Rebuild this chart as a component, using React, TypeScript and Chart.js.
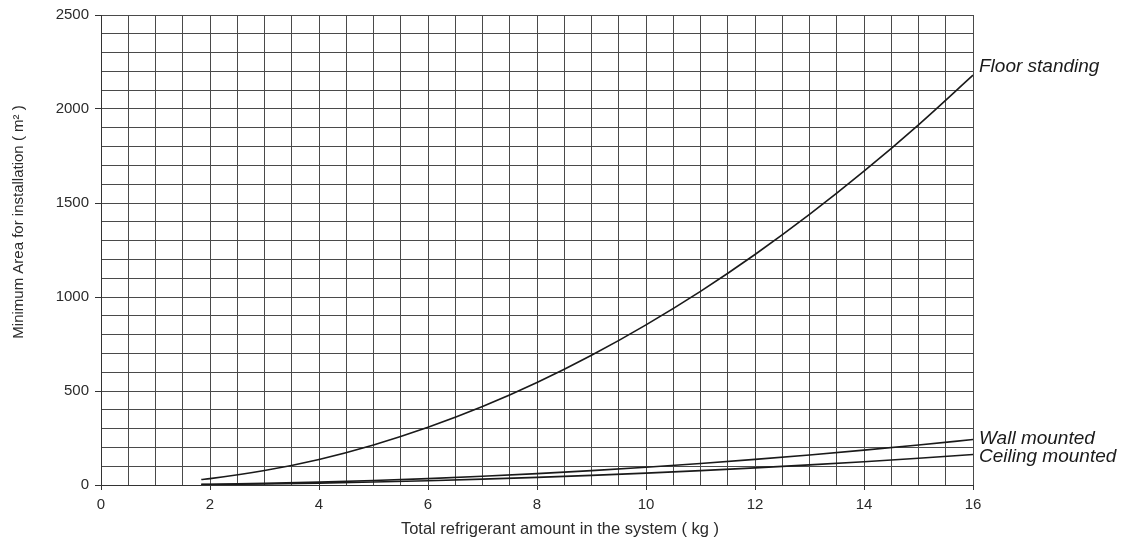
import React, { useEffect, useRef } from "react";
import { Chart, registerables } from "chart.js";

Chart.register(...registerables);

const xValues = [1.84, 2, 3, 4, 5, 6, 7, 8, 9, 10, 11, 12, 13, 14, 15, 16];
const floorStanding = [29, 34, 77, 136, 213, 307, 417, 545, 690, 852, 1030, 1226, 1439, 1669, 1916, 2180];
const wallMounted = [3.2, 3.8, 8.5, 15.1, 23.7, 34.1, 46.4, 60.5, 76.6, 94.6, 114.5, 136.2, 159.9, 185.4, 212.9, 242];
const ceilingMounted = [2.1, 2.5, 5.7, 10.1, 15.8, 22.8, 31, 40.5, 51.3, 63.3, 76.6, 91.2, 107, 124, 142.4, 162];

const seriesNames = ["Floor standing", "Wall mounted", "Ceiling mounted"];
const xTitle = "Total refrigerant amount in the system ( kg )";
const yTitle = "Minimum Area for installation ( m² )";
const xMin = 0, xMax = 16, xGridStep = 0.5, xLabelStep = 2;
const yMin = 0, yMax = 2500, yGridStep = 100, yLabelStep = 500;

const FONT = '"Liberation Sans", Arial, Helvetica, sans-serif';
const TEXT = "#2b2b2b";
const GRID = "#4a4a4a";

export default function App() {
  const ref = useRef<HTMLCanvasElement | null>(null);

  useEffect(() => {
    const canvas = ref.current;
    if (!canvas) return;
    const toPts = (ys: number[]) => xValues.map((x, i) => ({ x, y: ys[i] }));
    const labelOffsets = [-8, -1, 2.5];

    const labelPlugin = {
      id: "endLabels",
      afterDraw(chart: any) {
        const c = chart.ctx;
        const xs = chart.scales.x;
        const ys = chart.scales.y;
        c.save();
        c.fillStyle = "#1a1a1a";
        c.font = `italic 19px ${FONT}`;
        c.textAlign = "left";
        c.textBaseline = "middle";
        chart.data.datasets.forEach((ds: any, i: number) => {
          const last = ds.data[ds.data.length - 1];
          const px = xs.getPixelForValue(last.x) + 6;
          const py = ys.getPixelForValue(last.y) + labelOffsets[i];
          c.fillText(ds.label, px, py);
        });
        // axis titles
        c.fillStyle = TEXT;
        c.font = `16.5px ${FONT}`;
        c.textAlign = "center";
        c.fillText(xTitle, (xs.left + xs.right) / 2 + 23, 529);
        c.save();
        c.translate(19, 222);
        c.rotate(-Math.PI / 2);
        c.font = `15px ${FONT}`;
        c.fillText(yTitle, 0, 0);
        c.restore();
        c.restore();
      },
    };

    const chart = new Chart(canvas, {
      type: "line",
      data: {
        datasets: [
          { label: seriesNames[0], data: toPts(floorStanding) },
          { label: seriesNames[1], data: toPts(wallMounted) },
          { label: seriesNames[2], data: toPts(ceilingMounted) },
        ].map((d) => ({
          ...d,
          borderColor: "#1a1a1a",
          borderWidth: 1.6,
          pointRadius: 0,
          fill: false,
          cubicInterpolationMode: "monotone" as const,
        })),
      },
      options: {
        responsive: false,
        animation: false,
        layout: { padding: { left: 0, top: 14, right: 153, bottom: 0 } },
        plugins: { legend: { display: false }, tooltip: { enabled: false }, title: { display: false } },
        scales: {
          x: {
            type: "linear",
            min: xMin,
            max: xMax,
            afterFit: (s: any) => { s.height = 58; },
            border: { color: "#333", width: 1 },
            grid: {
              color: GRID,
              lineWidth: 1,
              tickLength: 5,
              tickColor: (ctx: any) => (ctx.tick && Math.abs(ctx.tick.value % xLabelStep) < 1e-6 ? "#333" : "rgba(0,0,0,0)"),
            },
            ticks: {
              stepSize: xGridStep,
              autoSkip: false,
              maxRotation: 0,
              padding: 6,
              color: TEXT,
              font: { family: FONT, size: 15 },
              callback: (v: any) => (Math.abs(Number(v) % xLabelStep) < 1e-6 ? String(v) : ""),
            },
          },
          y: {
            type: "linear",
            min: yMin,
            max: yMax,
            afterFit: (s: any) => { s.width = 101; },
            border: { color: "#333", width: 1 },
            grid: {
              color: GRID,
              lineWidth: 1,
              tickLength: 6,
              tickColor: (ctx: any) => (ctx.tick && ctx.tick.value % yLabelStep === 0 ? "#333" : "rgba(0,0,0,0)"),
            },
            ticks: {
              stepSize: yGridStep,
              autoSkip: false,
              padding: 6,
              color: TEXT,
              font: { family: FONT, size: 15 },
              callback: (v: any) => (Number(v) % yLabelStep === 0 ? String(v) : ""),
            },
          },
        },
      },
      plugins: [labelPlugin],
    });
    return () => chart.destroy();
  }, []);

  return (
    <div style={{ position: "fixed", left: 0, top: 0, width: 1126, height: 543, background: "#fff" }}>
      <canvas ref={ref} width={1126} height={543} style={{ display: "block", width: 1126, height: 543 }} />
    </div>
  );
}
